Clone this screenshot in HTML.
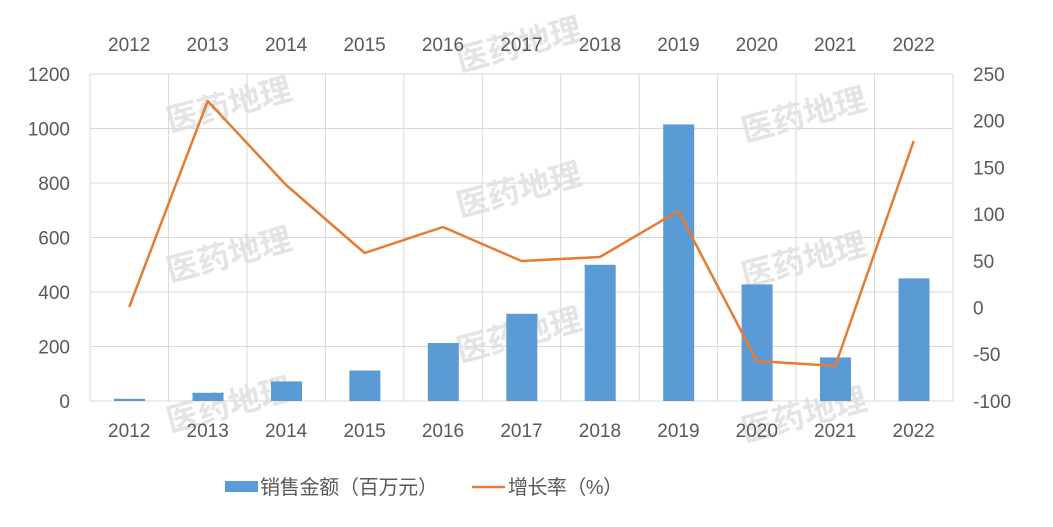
<!DOCTYPE html>
<html><head><meta charset="utf-8"><style>
html,body{margin:0;padding:0;background:#fff;}
svg text{font-family:"Liberation Sans","Noto Sans CJK SC",sans-serif;fill:#595959;}
</style></head><body>
<svg width="1053" height="522" viewBox="0 0 1053 522" xmlns="http://www.w3.org/2000/svg">
<g stroke="#d9d9d9" stroke-width="1">
<line x1="90" y1="74" x2="953" y2="74"/><line x1="90" y1="128.5" x2="953" y2="128.5"/>
<line x1="90" y1="183" x2="953" y2="183"/><line x1="90" y1="237.5" x2="953" y2="237.5"/>
<line x1="90" y1="292" x2="953" y2="292"/><line x1="90" y1="346.5" x2="953" y2="346.5"/>
<line x1="90" y1="401" x2="953" y2="401"/>
<line x1="90" y1="74" x2="90" y2="401"/><line x1="168.5" y1="74" x2="168.5" y2="401"/>
<line x1="247" y1="74" x2="247" y2="401"/><line x1="325.4" y1="74" x2="325.4" y2="401"/>
<line x1="403.8" y1="74" x2="403.8" y2="401"/><line x1="482.3" y1="74" x2="482.3" y2="401"/>
<line x1="560.7" y1="74" x2="560.7" y2="401"/><line x1="639.2" y1="74" x2="639.2" y2="401"/>
<line x1="717.6" y1="74" x2="717.6" y2="401"/><line x1="796" y1="74" x2="796" y2="401"/>
<line x1="874.5" y1="74" x2="874.5" y2="401"/><line x1="953" y1="74" x2="953" y2="401"/>
</g>
<g font-size="32" font-weight="bold" opacity="0.8">
<text x="170" y="132" transform="rotate(-15 170 132)" style="fill:#dedede">医药地理</text>
<text x="460" y="72" transform="rotate(-15 460 72)" style="fill:#dedede">医药地理</text>
<text x="745" y="142" transform="rotate(-15 745 142)" style="fill:#dedede">医药地理</text>
<text x="460" y="217" transform="rotate(-15 460 217)" style="fill:#dedede">医药地理</text>
<text x="170" y="282" transform="rotate(-15 170 282)" style="fill:#dedede">医药地理</text>
<text x="745" y="287" transform="rotate(-15 745 287)" style="fill:#dedede">医药地理</text>
<text x="460" y="362" transform="rotate(-15 460 362)" style="fill:#dedede">医药地理</text>
<text x="170" y="432" transform="rotate(-15 170 432)" style="fill:#dedede">医药地理</text>
<text x="745" y="442" transform="rotate(-15 745 442)" style="fill:#dedede">医药地理</text>
</g>
<g fill="#5b9bd5">
<rect x="114" y="398.8" width="31" height="2.2"/>
<rect x="192.5" y="392.8" width="31" height="8.2"/>
<rect x="271" y="381.4" width="31" height="19.6"/>
<rect x="349.4" y="370.5" width="31" height="30.5"/>
<rect x="427.8" y="343" width="31" height="58"/>
<rect x="506.3" y="313.8" width="31" height="87.2"/>
<rect x="584.7" y="264.8" width="31" height="136.2"/>
<rect x="663.2" y="124.4" width="31" height="276.6"/>
<rect x="741.6" y="284.4" width="31" height="116.6"/>
<rect x="820" y="357.4" width="31" height="43.6"/>
<rect x="898.5" y="278.4" width="31" height="122.6"/>
</g>
<polyline fill="none" stroke="#e57c35" stroke-width="2.5" stroke-linejoin="round" points="129.2,307 207.7,101 286.1,185 364.6,253 443,227 521.5,261 599.9,257 678.4,211 756.8,361 835.2,366 913.7,141"/>
<g font-size="19" text-anchor="end">
<text x="70" y="81">1200</text><text x="70" y="135.5">1000</text><text x="70" y="190">800</text>
<text x="70" y="244.5">600</text><text x="70" y="299">400</text><text x="70" y="353.5">200</text><text x="70" y="408">0</text>
</g>
<g font-size="19">
<text x="973" y="81">250</text><text x="973" y="127.7">200</text><text x="973" y="174.4">150</text>
<text x="973" y="221">100</text><text x="973" y="267.8">50</text><text x="973" y="314.5">0</text>
<text x="973" y="361">-50</text><text x="973" y="408">-100</text>
</g>
<g font-size="19" text-anchor="middle">
<text x="129.2" y="437">2012</text><text x="207.7" y="437">2013</text><text x="286.1" y="437">2014</text>
<text x="364.6" y="437">2015</text><text x="443" y="437">2016</text><text x="521.5" y="437">2017</text>
<text x="599.9" y="437">2018</text><text x="678.4" y="437">2019</text><text x="756.8" y="437">2020</text>
<text x="835.2" y="437">2021</text><text x="913.7" y="437">2022</text>
<text x="129.2" y="51">2012</text><text x="207.7" y="51">2013</text><text x="286.1" y="51">2014</text>
<text x="364.6" y="51">2015</text><text x="443" y="51">2016</text><text x="521.5" y="51">2017</text>
<text x="599.9" y="51">2018</text><text x="678.4" y="51">2019</text><text x="756.8" y="51">2020</text>
<text x="835.2" y="51">2021</text><text x="913.7" y="51">2022</text>
</g>
<rect x="225" y="481" width="33" height="11" fill="#5b9bd5"/>
<text x="260" y="494" font-size="20" textLength="178">销售金额（百万元）</text>
<line x1="472" y1="487" x2="505" y2="487" stroke="#e57c35" stroke-width="2.5"/>
<text x="508" y="494" font-size="20" textLength="115">增长率（%）</text>
</svg>
</body></html>
